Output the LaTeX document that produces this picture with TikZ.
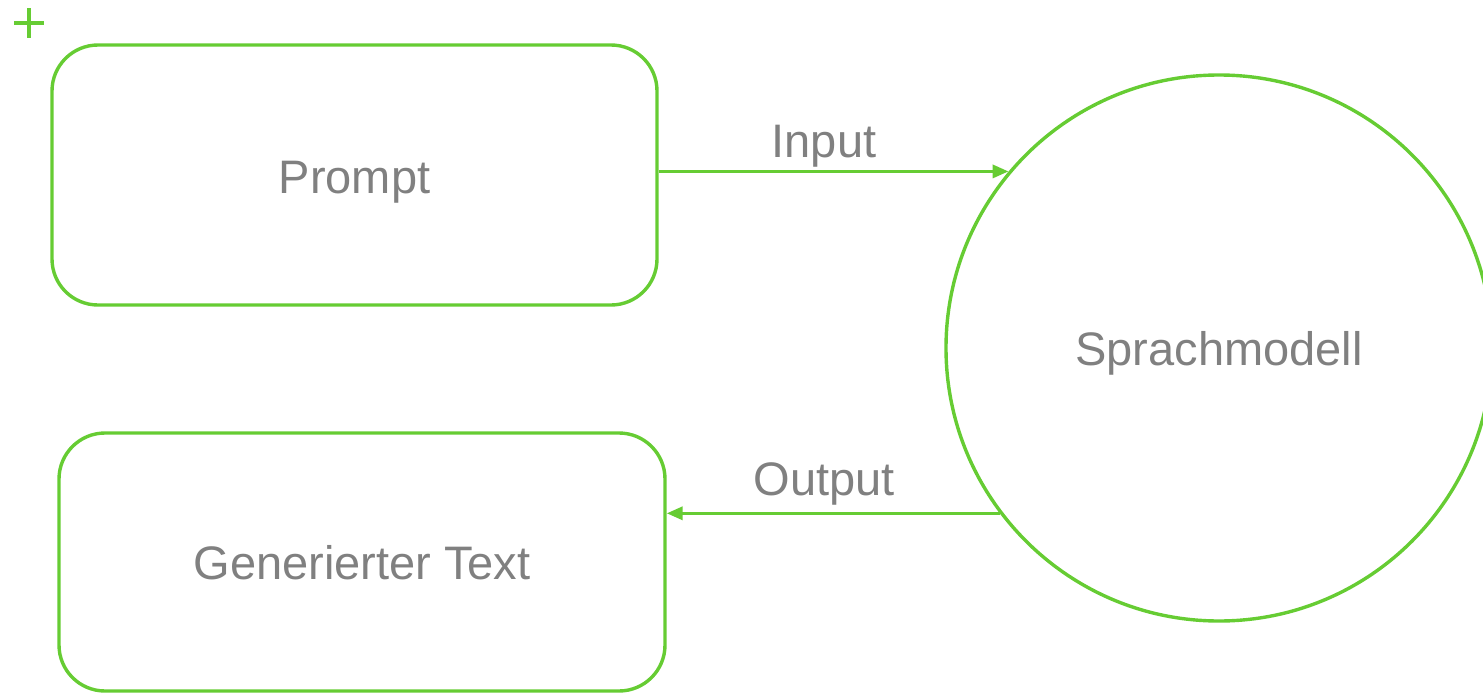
\documentclass[tikz,border=0pt]{standalone}
\usepackage{fontspec}
\setmainfont{Liberation Sans}
\usetikzlibrary{arrows.meta}
\definecolor{lgreen}{HTML}{66CC33}
\definecolor{tgray}{HTML}{808080}
\begin{document}
\begin{tikzpicture}[x=1pt,y=-1pt,
  every node/.style={font=\fontsize{47}{56}\selectfont, text=tgray},
  box/.style={draw=lgreen, line width=3.4pt, rounded corners=46pt, inner sep=0pt, text height=33.6pt, text depth=0pt},
  conn/.style={draw=lgreen, line width=3.4pt, -{Triangle[length=16pt,width=13pt]}},
  lab/.style={anchor=base}]
\useasboundingbox (0,0) rectangle (1483,693);
\node[box, minimum width=605pt, minimum height=260pt] (prompt) at (354.5,175) {\raisebox{-1.5pt}{Prompt}};
\node[box, minimum width=606pt, minimum height=258pt] (gen) at (362,562) {\raisebox{-1pt}{Generierter Text}};
\node[draw=lgreen, line width=3.4pt, circle, minimum size=546pt, inner sep=0pt, text height=33.6pt, text depth=0pt] (model) at (1219,348) {\raisebox{-1pt}{Sprachmodell}};
\draw[conn] (model.140 -| prompt.east) -- (model.140);
\draw[conn] (model.217) -- (model.217 -| gen.east);
\node[lab] (inlab) at (824,157) {Input};
\node[lab] (outlab) at (824,495) {Output};
\coordinate (plusc) at (29,23);
\draw[lgreen, line width=3.4pt] ([xshift=-15pt]plusc) -- ([xshift=15pt]plusc)
  ([yshift=-15pt]plusc) -- ([yshift=15pt]plusc);
\end{tikzpicture}
\end{document}
